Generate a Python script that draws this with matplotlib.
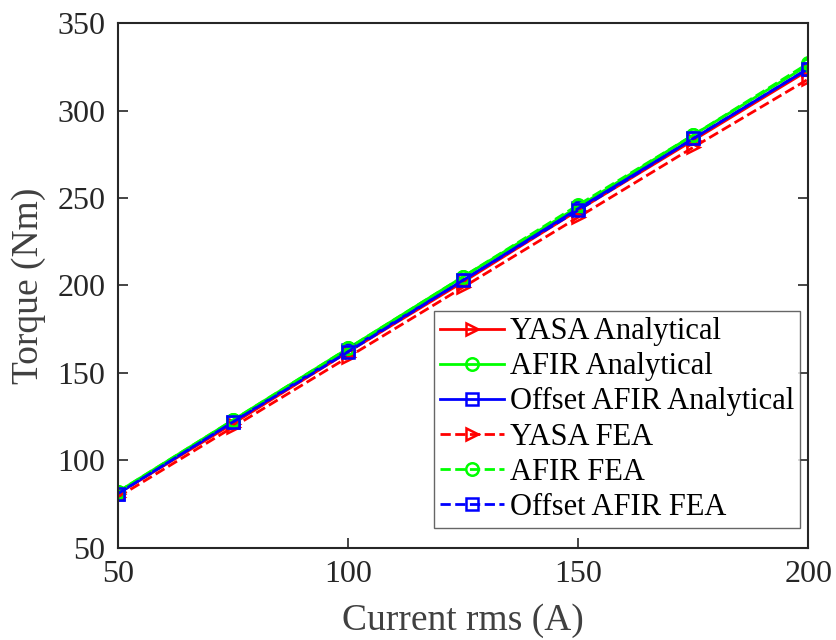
import numpy as np
import matplotlib.pyplot as plt

plt.rcParams['font.family'] = ['Liberation Serif', 'DejaVu Serif']

current = [50, 75, 100, 125, 150, 175, 200]
yasa_ana = [81, 121, 162, 202, 243, 283, 323]
afir_ana = [82, 123, 164, 205, 245, 286, 326]
offset_ana = [81, 122, 163, 203, 244, 284, 324]
yasa_fea = [79, 119, 159, 199, 239, 279, 318]
afir_fea = [82, 123, 164, 205, 246, 286, 327]
offset_fea = [81, 122, 162, 203, 243, 284, 324]

fig = plt.figure(figsize=(8.36, 6.4), dpi=100)
ax = fig.add_axes([0.141, 0.144, 0.826, 0.820])

mk = dict(markersize=9, markerfacecolor='none', markeredgewidth=1.8, linewidth=2)
ax.plot(current, yasa_ana, '-', color='#ff0000', marker='>', label='YASA Analytical', **mk)
ax.plot(current, afir_ana, '-', color='#00ff00', marker='o', label='AFIR Analytical', **mk)
ax.plot(current, offset_ana, '-', color='#0000ff', marker='s', label='Offset AFIR Analytical', **mk)
ax.plot(current, yasa_fea, '--', color='#ff0000', marker='>', label='YASA FEA', **mk)
ax.plot(current, afir_fea, '--', color='#00ff00', marker='o', label='AFIR FEA', **mk)
ax.plot(current, offset_fea, '--', color='#0000ff', marker='s', label='Offset AFIR FEA', **mk)

ax.set_xlim(50, 200)
ax.set_ylim(50, 350)
ax.set_xticks([50, 100, 150, 200])
ax.set_yticks(np.arange(50, 351, 50))
ax.tick_params(direction='in', labelsize=23, length=7, width=1.2, top=False, right=True,
               colors='#262626', pad=9)
for s in ax.spines.values():
    s.set_linewidth(1.5)
    s.set_color('#262626')
ax.set_xlabel('Current rms (A)', fontsize=27, color='#404040', labelpad=10)
ax.set_ylabel('Torque (Nm)', fontsize=27, color='#404040', labelpad=8)

leg = ax.legend(loc='lower right', bbox_to_anchor=(0.988, 0.038), fontsize=22,
                frameon=True, fancybox=False, edgecolor='#404040',
                handlelength=2.1, handletextpad=0.18, borderpad=0.2,
                labelspacing=0.2, borderaxespad=0)
leg.get_frame().set_linewidth(1)

fig.savefig('out.png', dpi=100)
